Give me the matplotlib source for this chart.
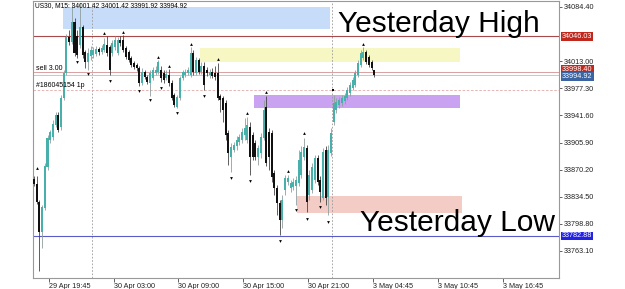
import matplotlib.pyplot as plt
from matplotlib.patches import Rectangle
from matplotlib.transforms import blended_transform_factory, offset_copy
import numpy as np

plt.rcParams['font.family'] = ['Liberation Sans', 'DejaVu Sans']

# Свечи US30 M15 (индекс бара = позиция по оси X)
opens = [33857.9, 33851.3, 33827.6, 33788.1, 33819.7, 33873.7, 33909.3, 33913.2, 33929.0, 33942.2,
         33926.4, 33964.6, 33997.5, 34044.9, 34038.3, 34064.6, 34046.2, 34034.3, 34058.1, 34025.1,
         34012.0, 34019.9, 34021.2, 34022.5, 34029.1, 34025.1, 34027.8, 34034.3, 34031.7, 34023.8,
         34031.7, 34023.8, 34040.9, 34040.9, 34030.4, 34025.1, 34017.2, 34010.6, 34008.0, 34004.1,
         33984.3, 33998.8, 33992.2, 33984.3, 33990.9, 33997.5, 33998.8, 34001.4, 33997.5, 33990.9,
         33994.8, 33984.3, 33968.5, 33952.7, 33964.6, 33990.9, 33994.8, 33997.5, 33994.8, 34023.8,
         33997.5, 34014.6, 33998.8, 34006.7, 34001.4, 33994.8, 33998.8, 33997.5, 33997.5, 33967.2,
         33964.6, 33958.0, 33918.5, 33886.9, 33896.1, 33901.4, 33906.6, 33909.3, 33915.8, 33909.3,
         33926.4, 33915.8, 33905.3, 33886.9, 33892.1, 33911.9, 33952.7, 33919.8, 33918.5, 33865.8,
         33846.0, 33826.3, 33803.9, 33843.4, 33853.9, 33846.0, 33847.4, 33848.7, 33852.6, 33863.2,
         33886.9, 33898.7, 33836.8, 33843.4, 33856.6, 33885.6, 33856.6, 33832.9, 33896.1, 33834.2,
         33892.1, 33933.0, 33948.8, 33955.3, 33958.0, 33960.6, 33964.6, 33971.1, 33977.7, 33981.7,
         33994.8, 34008.0, 34017.2, 34025.1, 34018.5, 34012.0, 34001.42]
highs = [33861.8, 33861.8, 33830.2, 33823.7, 33879.0, 33915.8, 33922.4, 33935.6, 33946.1, 33946.1,
         33968.5, 34001.4, 34048.8, 34054.1, 34091.0, 34069.9, 34054.1, 34089.7, 34060.7, 34027.8,
         34030.4, 34033.0, 34031.7, 34033.0, 34031.7, 34034.3, 34043.6, 34046.2, 34034.3, 34040.9,
         34046.2, 34044.9, 34046.2, 34047.5, 34033.0, 34027.8, 34019.9, 34013.3, 34010.6, 34006.7,
         34004.1, 34001.4, 33994.8, 34001.4, 34005.4, 34006.7, 34014.6, 34006.7, 34001.4, 34001.4,
         34002.7, 33988.3, 33971.1, 33968.5, 33993.5, 34001.4, 34002.7, 34005.4, 34031.7, 34027.8,
         34018.5, 34017.2, 34012.0, 34012.0, 34005.4, 34002.7, 34004.1, 34006.7, 34010.6, 33969.8,
         33967.2, 33961.9, 33922.4, 33905.3, 33906.6, 33914.5, 33917.2, 33925.1, 33938.2, 33939.5,
         33933.0, 33919.8, 33909.3, 33902.7, 33918.5, 33961.9, 33967.2, 33925.1, 33922.4, 33869.7,
         33850.0, 33830.2, 33836.8, 33863.2, 33863.2, 33856.6, 33859.2, 33861.8, 33896.1, 33901.4,
         33911.9, 33902.7, 33869.7, 33879.0, 33889.5, 33889.5, 33861.8, 33898.7, 33901.4, 33902.7,
         33925.1, 33968.5, 33964.6, 33965.9, 33968.5, 33971.1, 33979.0, 33985.6, 33992.2, 34001.4,
         34014.6, 34027.8, 34031.7, 34027.8, 34021.2, 34014.6, 34001.42]
lows = [33848.7, 33825.0, 33736.8, 33767.0, 33817.1, 33869.7, 33905.3, 33909.3, 33926.4, 33919.8,
        33922.4, 33961.9, 33994.8, 34034.3, 34035.7, 34019.9, 34017.2, 34030.4, 34017.2, 34004.1,
        34001.4, 34014.6, 34017.2, 34019.9, 34021.2, 34022.5, 34025.1, 34019.9, 33994.8, 34019.9,
        34027.8, 34021.2, 34033.0, 34025.1, 34015.9, 34012.0, 34005.4, 34002.7, 34000.1, 33980.4,
        33981.7, 33989.6, 33983.0, 33967.2, 33988.3, 33994.8, 33996.2, 33985.6, 33984.3, 33988.3,
        33980.4, 33961.9, 33952.7, 33951.4, 33961.9, 33988.3, 33992.2, 33994.8, 33992.2, 33994.8,
        33994.8, 33996.2, 33996.2, 33975.1, 33993.5, 33990.9, 33990.9, 33988.3, 33961.9, 33946.1,
        33933.0, 33909.3, 33876.3, 33867.1, 33893.4, 33896.1, 33902.7, 33905.3, 33909.3, 33905.3,
        33863.2, 33882.9, 33882.9, 33876.3, 33885.6, 33909.3, 33875.0, 33869.7, 33853.9, 33836.8,
        33810.5, 33784.2, 33793.4, 33836.8, 33850.0, 33840.8, 33843.4, 33823.7, 33848.7, 33859.2,
        33882.9, 33814.4, 33830.2, 33839.5, 33852.6, 33850.0, 33827.6, 33830.2, 33823.7, 33810.5,
        33888.2, 33929.0, 33944.8, 33951.4, 33954.0, 33956.7, 33961.9, 33967.2, 33975.1, 33979.0,
        33992.2, 34005.4, 34014.6, 34009.3, 34005.4, 34001.4, 33991.92]
closes = [33851.3, 33827.6, 33788.1, 33821.0, 33875.0, 33911.9, 33919.8, 33930.3, 33942.2, 33922.4,
          33964.6, 33997.5, 34044.9, 34038.3, 34064.6, 34023.8, 34021.2, 34058.1, 34021.2, 34012.0,
          34023.8, 34027.8, 34027.8, 34029.1, 34025.1, 34030.4, 34035.7, 34023.8, 34001.4, 34037.0,
          34040.9, 34040.9, 34037.0, 34027.8, 34018.5, 34014.6, 34008.0, 34005.4, 34004.1, 33984.3,
          33998.8, 33992.2, 33985.6, 33997.5, 34001.4, 34001.4, 34012.0, 33990.9, 33988.3, 33996.2,
          33984.3, 33964.6, 33955.3, 33965.9, 33990.9, 33998.8, 33998.8, 34001.4, 34023.8, 33998.8,
          34014.6, 33998.8, 34006.7, 33981.7, 33997.5, 33998.8, 33993.5, 33992.2, 33964.6, 33961.9,
          33948.8, 33915.8, 33892.1, 33900.0, 33902.7, 33909.3, 33913.2, 33919.8, 33925.1, 33929.0,
          33886.9, 33886.9, 33886.9, 33898.7, 33913.2, 33948.8, 33879.0, 33886.9, 33860.5, 33846.0,
          33826.3, 33803.9, 33830.2, 33859.2, 33859.2, 33852.6, 33853.9, 33856.6, 33882.9, 33893.4,
          33900.0, 33827.6, 33863.2, 33873.7, 33885.6, 33853.9, 33840.8, 33893.4, 33832.9, 33896.1,
          33918.5, 33958.0, 33959.3, 33961.9, 33964.6, 33967.2, 33975.1, 33981.7, 33988.3, 33997.5,
          34010.6, 34023.8, 34025.1, 34012.0, 34008.0, 34004.1, 33994.92]

# Фракталы: (бар, цена)
fractal_up_bars = [1, 26, 33, 46, 50, 58, 68, 79, 86, 94, 100, 122]
fractal_up_prices = [33872.4, 34050.1, 34051.5, 34018.5, 34006.7, 34035.7, 34015.9, 33944.8,
                     33972.5, 33868.4, 33918.5, 34035.7]
fractal_down_bars = [16, 20, 28, 39, 43, 47, 53, 63, 73, 80, 91, 97, 101, 106, 109]
fractal_down_prices = [34012.0, 33996.2, 33986.9, 33973.8, 33961.9, 33977.7, 33944.8, 33967.2,
                       33859.2, 33855.3, 33776.3, 33817.1, 33805.2, 33821.0, 33801.3]

# Уровни
yesterday_high = 34046.03
yesterday_low = 33782.88
sell_price = 33998.40
bid_price = 33994.92
order_price = 33975.4
order_bar = 110.8
day_separators = [21.5, 110.5]

# Зоны-прямоугольники: бар начала, бар конца, верх, низ
zone_x0 = [10.7, 61.5, 81.5, 97.4]
zone_x1 = [109.6, 157.8, 157.8, 158.5]
zone_top = [34084.4, 34030.4, 33968.5, 33835.5]
zone_bot = [34055.4, 34012.0, 33951.4, 33813.1]
zone_colors = ['#c6dcf8', '#f7f7c4', '#c9a3f2', '#f3ccc6']

# Подписи осей
ytick_values = [34084.40, 34013.00, 33977.30, 33941.60, 33905.90, 33870.20, 33834.50,
                33798.80, 33763.10]
xtick_bars = [5.5, 29.5, 53.5, 77.5, 101.5, 125.5, 149.5, 173.5]
xtick_labels = ['29 Apr 19:45', '30 Apr 03:00', '30 Apr 09:00', '30 Apr 15:00',
                '30 Apr 21:00', '3 May 04:45', '3 May 10:45', '3 May 16:45']

TEAL = '#47b0aa'

fig = plt.figure(figsize=(6.25, 2.89), dpi=100)
ax = fig.add_axes([33 / 625, 1 - 278 / 289, 526 / 625, 277 / 289])

# Прямоугольные зоны на заднем плане
for x0, x1, t, b, col in zip(zone_x0, zone_x1, zone_top, zone_bot, zone_colors):
    ax.add_patch(Rectangle((x0, b), x1 - x0, t - b, fc=col, ec='none', zorder=1))

# Разделители дней
for s in day_separators:
    ax.axvline(s, color='#999999', lw=0.6, ls=(0, (2, 2)), zorder=1.5)

# Горизонтальные уровни
ax.axhline(yesterday_high, color='#a84a4a', lw=0.8, zorder=1.6)
ax.axhline(yesterday_low, color='#5a5ac8', lw=0.8, zorder=1.6)
ax.axhline(sell_price, color='#d9a0a0', lw=0.7, zorder=1.6)
ax.axhline(bid_price, color='#c8c8c8', lw=0.7, zorder=1.6)
ax.axhline(order_price, color='#e0a8a8', lw=0.6, ls=(0, (3, 2)), zorder=1.6)

# Свечи
o = np.array(opens)
h = np.array(highs)
l = np.array(lows)
c = np.array(closes)
idx = np.arange(len(o))
up = c >= o
body_low = np.minimum(o, c)
body_h = np.maximum(np.abs(c - o), 0.8)

ax.vlines(idx[up], l[up], h[up], color='#8f9f9e', lw=0.6, zorder=2)
ax.vlines(idx[~up], l[~up], h[~up], color='#444444', lw=0.6, zorder=2)
ax.bar(idx[up], body_h[up], 0.75, bottom=body_low[up], color=TEAL, linewidth=0, zorder=3)
ax.bar(idx[~up], body_h[~up], 0.75, bottom=body_low[~up], color='#111111', linewidth=0, zorder=3)

# Фракталы
ax.scatter(fractal_up_bars, fractal_up_prices, marker='^', s=4, c='black', linewidths=0, zorder=4)
ax.scatter(fractal_down_bars, fractal_down_prices, marker='v', s=4, c='black', linewidths=0, zorder=4)
ax.scatter([order_bar], [order_price], marker='s', s=3, c='black', linewidths=0, zorder=4)

# Большие подписи
ax.text(112.6, 34051.9, 'Yesterday High', fontsize=21.5, va='baseline', ha='left', zorder=5)
ax.text(120.7, 33789.4, 'Yesterday Low', fontsize=21.5, va='baseline', ha='left', zorder=5)

# Мелкие подписи
ax.text(0.004, 0.995, 'US30, M15: 34001.42 34001.42 33991.92 33994.92', transform=ax.transAxes,
        fontsize=4.8, va='top', ha='left', zorder=5)
ax.text(0.6, sell_price + 0.8, 'sell 3.00', fontsize=5, va='bottom', ha='left', zorder=5)
ax.text(0.6, order_price + 1.5, '#186045154 1p', fontsize=5, va='bottom', ha='left', zorder=5)

ax.set_xlim(-0.37, 194.4)
ax.set_ylim(33727.5, 34092.3)

ax.yaxis.tick_right()
ax.set_yticks(ytick_values)
ax.set_yticklabels(['%.2f' % v for v in ytick_values])
ax.set_xticks(xtick_bars)
ax.set_xticklabels(xtick_labels)
for lab in ax.get_xticklabels():
    lab.set_ha('left')
ax.tick_params(axis='y', length=2, width=0.5, pad=1.5, labelsize=5.2, colors='#222222')
ax.tick_params(axis='x', length=3, width=0.5, pad=0.5, labelsize=5.2, colors='#222222')

for sp in ax.spines.values():
    sp.set_color('#999999')
    sp.set_linewidth(0.8)

# Цветные метки цен на правой шкале
tr = blended_transform_factory(ax.transAxes, ax.transData)
price_boxes = [(yesterday_high, '#c0281e', 0), (sell_price, '#c0281e', 2.5),
               (bid_price, '#3b64a0', -1.5), (yesterday_low, '#2323e6', 0)]
for price, col, dy in price_boxes:
    ax.text(1.006, price, '%.2f' % price, transform=offset_copy(tr, fig, y=dy, units='dots'),
            fontsize=5.2, color='white', va='center', ha='left', clip_on=False, zorder=6,
            bbox=dict(boxstyle='square,pad=0.12', fc=col, ec='none'))

fig.savefig('out.png', dpi=100)
